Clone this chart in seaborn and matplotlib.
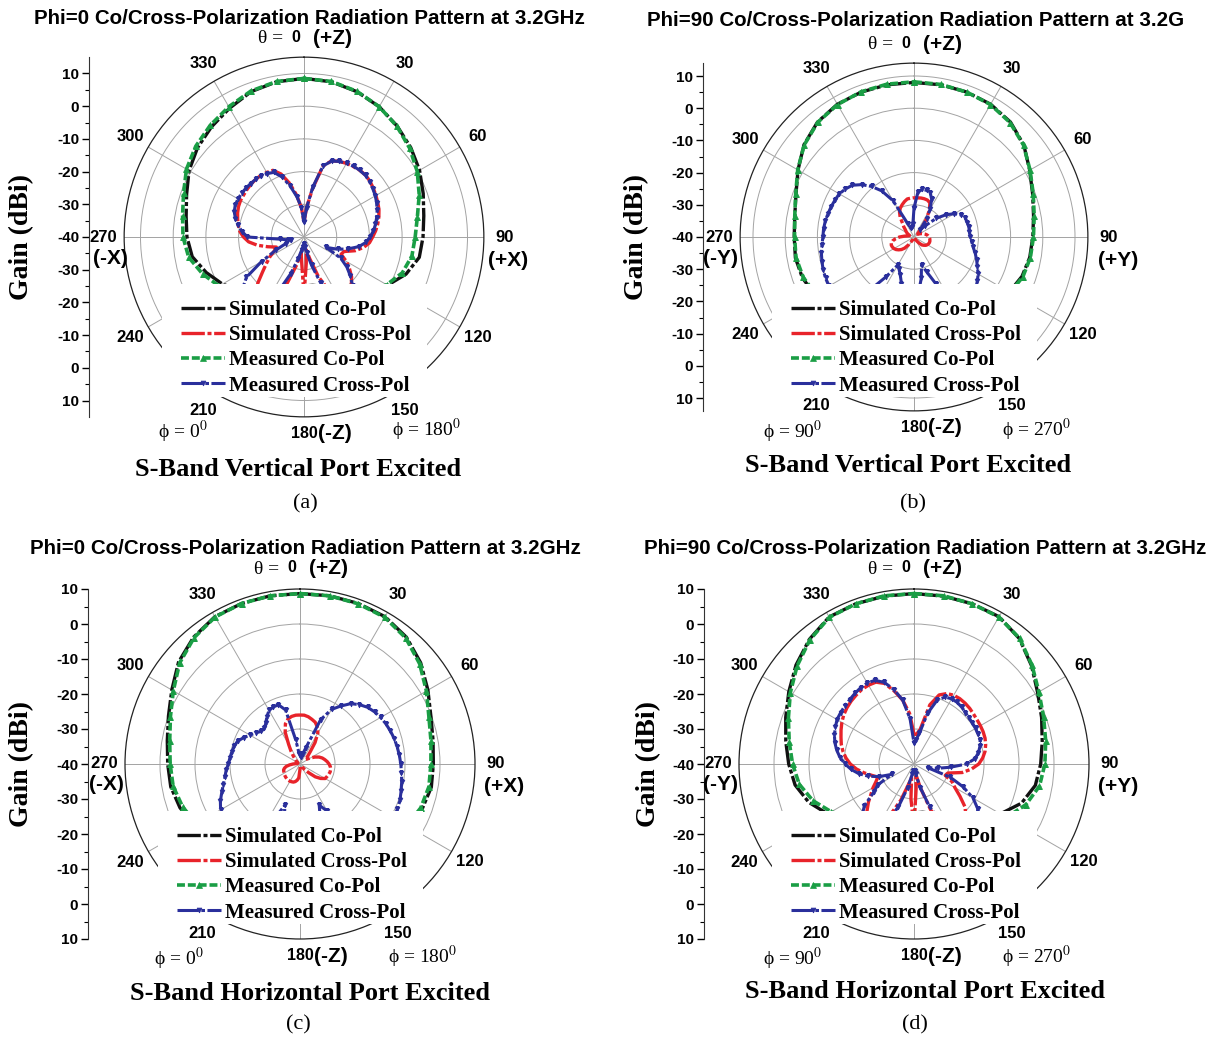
import numpy as np
import matplotlib
matplotlib.use("Agg")
import matplotlib.pyplot as plt
import seaborn as sns
from matplotlib.patches import Rectangle
from matplotlib.transforms import Bbox, TransformedBbox

# ---------------- data: gain (dBi) ----------------
theta_co = list(range(0, 360, 10))   # co-pol read every 10 deg
theta_x = list(range(0, 360, 5))     # cross-pol read every 5 deg

series_names = ["Simulated Co-Pol", "Simulated Cross-Pol", "Measured Co-Pol", "Measured Cross-Pol"]
gain_tick_labels = [10, 0, -10, -20, -30, -40, -30, -20, -10, 0, 10]
angle_labels = ["30", "60", "90", "120", "150", "210", "240", "270", "300", "330"]
angle_label_pos = [30, 60, 90, 120, 150, 210, 240, 270, 300, 330]

# (a) Phi=0, vertical port
a_sim_co = [8.5, 8.2, 7.3, 6.0, 4.3, 2.6, 0.8, -1.2, -2.8, -3.6, -4.2, -6.8, -10.5, -15, -19, -22, -24, -25,
            -25, -24.5, -23, -21, -18, -14.5, -11.2, -8.2, -5.3, -4.2, -3.4, -1.8, 0.6, 2.5, 4.0, 5.5, 7.3, 8.2]
a_meas_co = [8.5, 8.3, 7.4, 6.0, 4.2, 2.2, 0.0, -2.5, -4.8, -6.0, -6.5, -8.0, -10.8, -14, -17.5, -21, -23, -24,
             -24.5, -24, -22, -19.5, -16.5, -13.5, -10, -7, -4.2, -3.0, -2.3, -0.8, 1.5, 3.2, 4.6, 6.0, 7.5, 8.3]
a_sim_x = [-35.5, -31, -25, -17.5, -15.2, -14.5, -14, -13.7, -13.4, -13.3, -13.6, -14.1,
           -14.6, -15.1, -15.6, -16.3, -17.1, -18, -19, -19.9, -21.5, -23.8, -27, -27.5,
           -25, -23, -21, -19.5, -18.3, -18, -19, -22, -27, -33, -36, -32,
           -22, -32, -35, -31, -25, -20, -17.5, -17.2, -18, -20, -23.5, -26,
           -28, -30, -31, -28.5, -25.5, -23, -21.5, -20.3, -19.6, -19, -18.4, -17.9,
           -17.6, -17.5, -17.3, -17.1, -17, -17, -17.2, -17.5, -19.5, -23, -27, -31]
a_meas_x = [-35.5, -31, -24.5, -17.5, -15.3, -14.5, -14, -13.6, -13.4, -13.4, -13.8, -14.3,
            -14.8, -15.5, -16.2, -17, -17.8, -18.7, -19.8, -21, -23, -26, -29, -32.5,
            -27, -24, -21.5, -19, -17.5, -17, -17.5, -20, -25, -31, -35, -37,
            -38, -37, -36, -33, -28, -22, -17.5, -15, -14, -14, -15.5, -18.5,
            -25, -30.5, -34, -36, -35, -32.5, -22.7, -21, -19.5, -18.3, -17.3, -16.8,
            -16.7, -16.7, -16.8, -16.9, -17, -17.3, -17.6, -18.2, -20.5, -24, -27.5, -31]

# (b) Phi=90, vertical port
b_sim_co = [8.0, 8.0, 7.9, 7.6, 6.6, 4.5, 1.5, -0.8, -2.3, -3.1, -3.5, -4.3, -5.8, -8, -10.5, -13, -15, -16,
            -16.5, -16, -14.5, -12, -9, -6.2, -4.3, -3.1, -2.6, -2.8, -2.4, -1.0, 1.6, 4.6, 6.6, 7.6, 7.9, 8.0]
b_meas_co = [8.2, 8.1, 7.9, 7.5, 6.4, 4.4, 1.6, -0.6, -2.1, -2.9, -3.3, -4.0, -5.5, -7.8, -10.5, -13, -15, -16,
             -16.5, -16, -14.5, -12, -9.2, -6.5, -4.6, -3.4, -2.8, -2.9, -2.4, -0.9, 1.7, 4.5, 6.5, 7.5, 8.0, 8.2]
b_sim_x = [-27.8, -27.8, -27.7, -27.7, -27.8, -28.3, -30.5, -33.5, -36, -38, -38.5, -38.5,
           -38, -37.5, -37, -36.5, -36, -35.6, -35.3, -35.1, -35, -34.9, -34.9, -35,
           -35.2, -35.5, -36, -36.5, -37.5, -38.5, -39.3, -39.6, -39.8, -39.8, -39.8, -39.8,
           -39.8, -39.8, -39.8, -39.6, -39.3, -39, -38.5, -37, -35.5, -34.5, -33.8, -33.2,
           -32.8, -32.6, -32.5, -32.7, -33.3, -34.3, -35.5, -37, -38, -38.5, -38.5, -38,
           -37.5, -37, -36.5, -35.5, -34.5, -32.5, -31, -30, -29.3, -28.6, -28, -27.9]
b_meas_x = [-31, -26, -25, -25, -25.3, -27, -30, -33, -37, -35, -31, -28,
            -25.5, -23.8, -23, -22.8, -22.7, -22.7, -22.5, -22, -21.3, -20.3, -19.3, -18.3,
            -17, -16, -15, -14.5, -15, -17, -20, -24, -28.5, -31, -27, -23,
            -20, -20, -22, -25, -27.5, -29, -30, -25, -18, -13, -10.5, -9.5,
            -9.5, -9.7, -10, -10.4, -10.8, -11.3, -11.7, -11.8, -12, -12.3, -12.6, -12.9,
            -13.2, -14, -15, -17, -19.5, -22.5, -27, -35.5, -37, -37, -37, -36]

# (c) Phi=0, horizontal port
c_sim_co = [8.7, 8.8, 8.8, 8.6, 7.3, 5.0, 2.2, -0.2, -1.4, -1.9, -1.9, -2.8, -4.5, -7, -10, -13, -15, -16.5,
            -17, -16.5, -14.5, -12, -9.5, -7, -5, -3.5, -2.5, -2.2, -1.5, 0.0, 2.3, 5.3, 7.3, 8.6, 8.8, 8.8]
c_meas_co = [8.7, 8.8, 8.7, 8.4, 7.0, 4.6, 1.7, -0.8, -2.0, -2.6, -2.6, -3.3, -4.8, -7, -10, -13, -15, -16.5,
             -17, -16.5, -14.5, -12.5, -10, -7.8, -5.8, -4.3, -3.2, -2.9, -2.2, -0.6, 1.8, 4.9, 7.1, 8.5, 8.8, 8.8]
c_sim_x = [-26, -26, -26.3, -26.8, -27.3, -28.3, -29.8, -32.5, -35.5, -37, -38, -37.5,
           -36.5, -35.3, -34.2, -33.4, -32.8, -32.2, -31.7, -31.3, -31.1, -31.1, -31.3, -31.5,
           -31.7, -32.8, -34.3, -36.5, -38, -39, -39.3, -39.3, -39.3, -39.3, -39.3, -39.3,
           -38.5, -36, -35.3, -34.8, -34.5, -34.4, -34.3, -34.3, -34.3, -34.4, -34.5, -34.6,
           -34.8, -34.9, -35, -35.4, -36, -37, -38, -38.8, -39.2, -39.3, -39.3, -39.3,
           -39.3, -39, -38.5, -38, -37, -35.5, -33.5, -30, -27.8, -26.7, -26.2, -26]
c_meas_x = [-37, -38, -38, -37, -35, -26, -22, -19.8, -17.5, -16, -14.8, -14,
            -13.4, -12.9, -12.5, -12.1, -11.8, -11.5, -11.2, -10.9, -10.5, -10.1, -9.6, -9.3,
            -9.2, -9.5, -10.5, -12.5, -16, -20, -24.5, -27, -23, -19, -17, -16,
            -16, -16.5, -18.5, -22, -27.5, -23, -18, -14.5, -13, -12.5, -12.3, -12.8,
            -13.8, -14.9, -16.2, -17.3, -18.2, -18.8, -19.5, -19.9, -20.2, -20.5, -21, -22.2,
            -23.5, -24.5, -25.5, -25.6, -24.8, -23.5, -22.3, -22, -22, -24, -33, -37]

# (d) Phi=90, horizontal port
d_sim_co = [8.7, 8.7, 8.7, 8.6, 6.8, 3.8, 0.8, -1.2, -2.8, -3.8, -4.8, -7.3, -11.5, -16, -20, -23, -25, -26,
            -26, -25, -23, -21, -18, -15, -11.5, -8, -5.5, -4.2, -2.8, -1.0, 1.3, 4.0, 6.5, 8.5, 8.7, 8.7]
d_meas_co = [8.7, 8.8, 8.7, 8.5, 6.9, 4.0, 1.2, -0.6, -1.8, -2.6, -3.6, -6, -9.5, -14, -18.5, -22, -24.5, -25.5,
             -26, -25.5, -24, -22, -19, -16, -12.7, -9.3, -6.7, -5.3, -3.8, -1.8, 0.8, 3.6, 6.3, 8.4, 8.7, 8.8]
d_sim_x = [-31.5, -31.5, -30, -22.5, -19, -17.8, -17.3, -17.2, -17.3, -17.5, -17.8, -18,
           -18.1, -18.2, -18.4, -18.8, -19.4, -20.3, -21.5, -23.5, -26, -30, -30.5, -28,
           -26.5, -24, -21, -19, -17.8, -17.5, -18.5, -21, -26, -33, -37, -33,
           -22, -30, -36, -34, -29, -24, -20, -19, -19.5, -21, -23, -25,
           -26.5, -28, -29, -27.5, -25.5, -23.5, -21.8, -20.5, -19.4, -18.5, -17.8, -17,
           -16.2, -15.5, -15, -14.6, -14.3, -14, -14, -14.2, -15.5, -18.5, -21.5, -25.5]
d_meas_x = [-34, -33, -31, -25, -20.5, -18.9, -18.5, -18.5, -18.8, -19.2, -19.5, -19.6,
            -19.7, -19.8, -19.9, -20.5, -21.3, -22.5, -25, -29.5, -33, -36, -29, -24.5,
            -20.5, -17.8, -16.3, -15.5, -15.5, -16, -18, -22, -27, -33, -37, -38,
            -38, -38, -37, -33, -27, -22, -19, -18, -18.5, -19, -21.5, -26,
            -28, -33, -29.5, -26.5, -24, -22, -20.3, -18.8, -17.6, -16.6, -15.8, -15.2,
            -14.6, -14.4, -14.2, -14, -13.7, -13.4, -13.3, -13.6, -15.2, -18, -21.5, -27]

# ---------------- styling ----------------
plt.rcParams['font.family'] = ['Liberation Sans', 'DejaVu Sans']
plt.rcParams['mathtext.fontset'] = 'stix'
SERIF = ['Liberation Serif', 'DejaVu Serif']
SANS = ['Liberation Sans', 'DejaVu Sans']

colors = ['#111111', '#e8232a', '#1a9e45', '#2a2f9c']
styles = [
    dict(ls=(0, (7, 0.8, 1.2, 0.8)), lw=2.4, marker=None, ms=0),
    dict(ls=(0, (7, 0.8, 1.2, 0.8)), lw=2.4, marker=None, ms=0),
    dict(ls=(0, (2.2, 0.8)), lw=2.6, marker='^', ms=4),
    dict(ls=(0, (7, 0.8, 1.2, 0.8)), lw=2.2, marker='v', ms=3.5),
]

W, H = 1213, 1040
fig = plt.figure(figsize=(W / 100, H / 100), dpi=100)
fig.patch.set_facecolor('white')


def fx(x):
    return x / W


def fy(y):
    return 1 - y / H


panels = [
    dict(cx=304, cy=237, ppd=3.27, rmax=15, axis_x=89, gain_x=22,
         title="Phi=0 Co/Cross-Polarization Radiation Pattern at 3.2GHz", title_xy=(309, 18), title_ha='center',
         sub="S-Band Vertical Port Excited", sub_xy=(298, 469), letter="(a)", letter_xy=(305, 504),
         phi=("0", "180"), side=("(-X)", "(+X)"),
         series=[a_sim_co, a_sim_x, a_meas_co, a_meas_x]),
    dict(cx=914, cy=237, ppd=3.22, rmax=14, axis_x=703, gain_x=637,
         title="Phi=90 Co/Cross-Polarization Radiation Pattern at 3.2GHz", title_xy=(647, 21), title_ha='left',
         sub="S-Band Vertical Port Excited", sub_xy=(908, 466), letter="(b)", letter_xy=(913, 504),
         phi=("90", "270"), side=("(-Y)", "(+Y)"), clip_right=1185,
         series=[b_sim_co, b_sim_x, b_meas_co, b_meas_x]),
    dict(cx=300, cy=764, ppd=3.5, rmax=10, axis_x=88, gain_x=22,
         title="Phi=0 Co/Cross-Polarization Radiation Pattern at 3.2GHz", title_xy=(305, 549), title_ha='center',
         sub="S-Band Horizontal Port Excited", sub_xy=(310, 993), letter="(c)", letter_xy=(298, 1025),
         phi=("0", "180"), side=("(-X)", "(+X)"),
         series=[c_sim_co, c_sim_x, c_meas_co, c_meas_x]),
    dict(cx=914, cy=764, ppd=3.5, rmax=10, axis_x=704, gain_x=649,
         title="Phi=90 Co/Cross-Polarization Radiation Pattern at 3.2GHz", title_xy=(925, 549), title_ha='center',
         sub="S-Band Horizontal Port Excited", sub_xy=(925, 992), letter="(d)", letter_xy=(915, 1025),
         phi=("90", "270"), side=("(-Y)", "(+Y)"),
         series=[d_sim_co, d_sim_x, d_meas_co, d_meas_x]),
]


def draw_panel(p):
    cx, cy, ppd, rmax = p['cx'], p['cy'], p['ppd'], p['rmax']
    R = (rmax + 40) * ppd
    ax = fig.add_axes([fx(cx - R), fy(cy + R), 2 * R / W, 2 * R / H], projection='polar')
    ax.set_facecolor('none')
    ax.set_theta_zero_location('N')
    ax.set_theta_direction(-1)

    for name, col, st, vals in zip(series_names, colors, styles, p['series']):
        tdeg = theta_co if len(vals) == len(theta_co) else theta_x
        th = np.deg2rad(np.r_[tdeg, tdeg[0] + 360])
        v = np.r_[vals, vals[:1]]
        kw = dict(color=col, lw=st['lw'], linestyle=st['ls'])
        if st['marker']:
            kw.update(marker=st['marker'], markersize=st['ms'], markeredgecolor=col,
                      markerfacecolor=col, markeredgewidth=0.5)
        sns.lineplot(x=th, y=v, ax=ax, sort=False, estimator=None, legend=False, label=name, **kw)

    ax.set_ylim(-40, rmax)
    ax.set_xlabel('')
    ax.set_ylabel('')
    ax.set_thetagrids(np.arange(0, 360, 30), labels=[''] * 12)
    rt = [-30, -20, -10, 0] + ([10] if rmax > 10 else [])
    ax.set_rgrids(rt, labels=[''] * len(rt))
    ax.grid(True, color='#a3a3a3', lw=0.7)
    ax.spines['polar'].set_color('#222222')
    ax.spines['polar'].set_linewidth(0.9)
    ax.set_xticks(np.deg2rad(np.arange(15, 360, 30)), minor=True)
    ax.tick_params(axis='x', which='minor', length=4, direction='in', color='#333333', width=0.8)
    ax.tick_params(axis='x', which='major', length=0, pad=0)
    ax.tick_params(axis='y', length=0)

    # white legend backdrop covering the lower part of the pattern
    bl, br, bt, bb = -142, 123, 47, 160
    x0 = 0.5 + bl / (2 * R)
    x1 = 0.5 + br / (2 * R)
    y0 = 0.5 - bb / (2 * R)
    y1 = 0.5 - bt / (2 * R)
    ax.add_patch(Rectangle((x0, y0), x1 - x0, y1 - y0, transform=ax.transAxes,
                           facecolor='white', edgecolor='none', zorder=10, clip_on=False))

    handles, labels = ax.get_legend_handles_labels()
    leg = ax.legend(handles, labels, loc='upper left',
                    bbox_to_anchor=(fx(cx - 123), fy(cy + 63)), bbox_transform=fig.transFigure,
                    frameon=False, prop=dict(family=SERIF, weight='bold', size=15),
                    handlelength=2.1, handletextpad=0.2, labelspacing=0.25,
                    borderpad=0, borderaxespad=0, numpoints=1)
    leg.set_zorder(11)

    # radial gain axis on the left
    ax2 = fig.add_axes([fx(p['axis_x']), fy(cy + R), 0.0001, 2 * R / H])
    lim = rmax + 40
    ax2.set_ylim(-lim, lim)
    ax2.set_yticks(np.arange(50, -51, -10))
    ax2.set_yticklabels([str(v) for v in gain_tick_labels])
    ax2.set_yticks(np.arange(-45, 50, 10), minor=True)
    ax2.set_xticks([])
    ax2.set_facecolor('none')
    for s in ['top', 'right', 'bottom']:
        ax2.spines[s].set_visible(False)
    ax2.spines['left'].set_color('#333333')
    ax2.tick_params(axis='y', which='major', direction='out', length=5, width=1, labelsize=11, pad=2)
    ax2.tick_params(axis='y', which='minor', direction='out', length=3, width=0.8)
    for lbl in ax2.get_yticklabels():
        lbl.set_fontweight('bold')

    fig.text(fx(p['gain_x']), fy(cy), "Gain (dBi)", rotation=90, ha='center', va='center',
             family=SERIF, weight='bold', fontsize=20)

    # title
    t = fig.text(fx(p['title_xy'][0]), fy(p['title_xy'][1]), p['title'], ha=p['title_ha'], va='center',
                 family=SANS, weight='bold', fontsize=14.8)
    if 'clip_right' in p:
        t.set_clip_box(TransformedBbox(Bbox([[0, 0], [fx(p['clip_right']), 1]]), fig.transFigure))
        t.set_clip_on(True)

    # theta = 0 (+Z)
    ty = cy - R - 19 if rmax > 10 else cy - 195
    fig.text(fx(cx - 16), fy(ty), "θ = ", ha='right', va='center', family=SERIF, fontsize=14)
    fig.text(fx(cx - 8), fy(ty - 1), "0", ha='center', va='center', family=SANS, weight='bold', fontsize=11.5)
    fig.text(fx(cx + 9), fy(ty), "(+Z)", ha='left', va='center', family=SANS, weight='bold', fontsize=15)

    # angle labels
    rl = R + 21
    for a, lab in zip(angle_label_pos, angle_labels):
        ang = np.deg2rad(a)
        fig.text(fx(cx + rl * np.sin(ang)), fy(cy - rl * np.cos(ang)), lab, ha='center', va='center',
                 family=SANS, weight='bold', fontsize=12)
    fig.text(fx(cx - 194), fy(cy + 21), p['side'][0], ha='center', va='center', family=SANS,
             weight='bold', fontsize=15)
    fig.text(fx(cx + 204), fy(cy + 23), p['side'][1], ha='center', va='center', family=SANS,
             weight='bold', fontsize=15)
    by = cy + R + 17
    fig.text(fx(cx), fy(by), "180", ha='center', va='center', family=SANS, weight='bold', fontsize=11.5)
    fig.text(fx(cx + 14), fy(by), "(-Z)", ha='left', va='center', family=SANS, weight='bold', fontsize=15)

    fig.text(fx(cx - 121), fy(cy + 195), "ϕ = " + p['phi'][0] + "$^{0}$", ha='center', va='center',
             family=SERIF, fontsize=14)
    fig.text(fx(cx + 123), fy(cy + 193), "ϕ = " + p['phi'][1] + "$^{0}$", ha='center', va='center',
             family=SERIF, fontsize=14)

    fig.text(fx(p['sub_xy'][0]), fy(p['sub_xy'][1]), p['sub'], ha='center', va='center',
             family=SERIF, weight='bold', fontsize=19)
    fig.text(fx(p['letter_xy'][0]), fy(p['letter_xy'][1]), p['letter'], ha='center', va='center',
             family=SERIF, fontsize=16)


for p in panels:
    draw_panel(p)

fig.savefig("out.png", dpi=100, facecolor='white')
